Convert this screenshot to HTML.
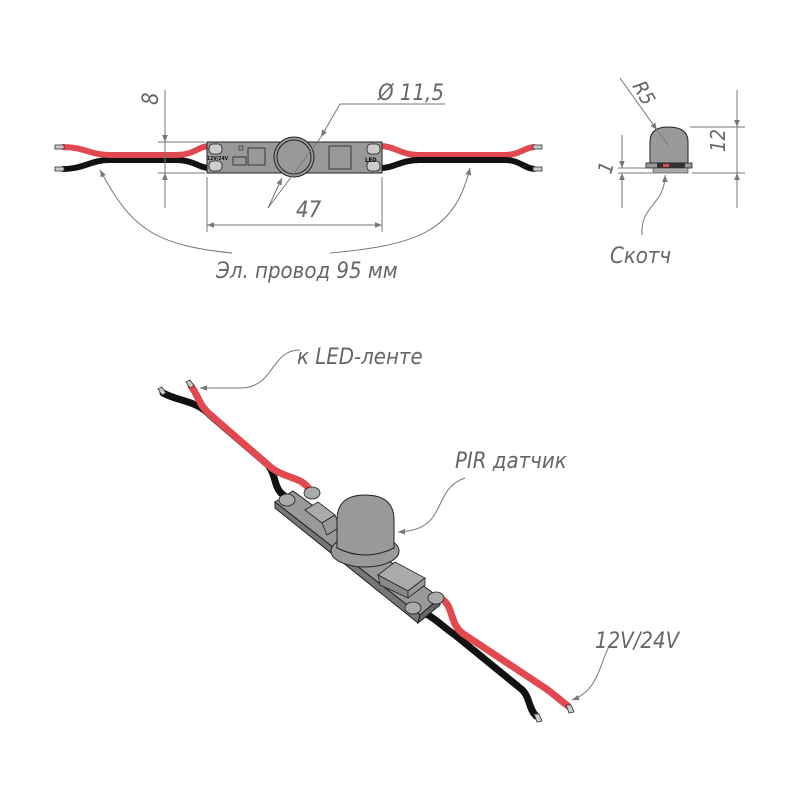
<!DOCTYPE html>
<html><head><meta charset="utf-8"><style>
html,body{margin:0;padding:0;background:#fff;}
svg text{font-family:"DejaVu Sans Condensed","Liberation Sans Narrow","Liberation Sans",sans-serif;font-style:italic;fill:#666;font-weight:lighter;}
</style></head><body>
<svg width="800" height="800" viewBox="0 0 800 800" xmlns="http://www.w3.org/2000/svg">
<defs>
<marker id="a" viewBox="0 0 10 10" refX="10" refY="5" markerWidth="9" markerHeight="7" orient="auto-start-reverse" markerUnits="userSpaceOnUse"><path d="M0,1 L10,5 L0,9 z" fill="#777"/></marker>
</defs>
<!-- ===== top view wires ===== -->
<g fill="none" stroke-linecap="butt">
<path d="M62,169 C85,169 90,160 110,160 L175,160 C195,160 198,168 210,168" stroke="#111" stroke-width="6"/>
<path d="M62,147 C85,147 90,155 110,155 L175,155 C195,155 198,146 210,146" stroke="#e2484f" stroke-width="6"/>
<path d="M380,146 C395,146 400,155 420,155 L505,155 C520,155 525,147 535,147" stroke="#e2484f" stroke-width="6"/>
<path d="M380,168 C395,168 400,160 420,160 L505,160 C520,160 525,169 535,169" stroke="#111" stroke-width="6"/>
</g>
<rect x="55" y="145" width="9" height="4" fill="#ccc" stroke="#333" stroke-width=".8"/>
<rect x="55" y="167" width="9" height="4" fill="#ccc" stroke="#333" stroke-width=".8"/>
<rect x="533" y="145" width="9" height="4" fill="#ccc" stroke="#333" stroke-width=".8"/>
<rect x="533" y="167" width="9" height="4" fill="#ccc" stroke="#333" stroke-width=".8"/>
<!-- board -->
<rect x="207" y="142" width="175" height="31" fill="#999" stroke="#222" stroke-width="1"/>
<rect x="209" y="144" width="13" height="10" rx="4" fill="#ccc" stroke="#222" stroke-width=".8"/>
<rect x="209" y="161" width="13" height="10" rx="4" fill="#ccc" stroke="#222" stroke-width=".8"/>
<rect x="367" y="144" width="13" height="10" rx="4" fill="#ccc" stroke="#222" stroke-width=".8"/>
<rect x="367" y="161" width="13" height="10" rx="4" fill="#ccc" stroke="#222" stroke-width=".8"/>
<rect x="248" y="148" width="17" height="17" fill="#999" stroke="#222" stroke-width=".8"/>
<rect x="233" y="157" width="13" height="8" fill="#999" stroke="#222" stroke-width=".8"/>
<rect x="239" y="146" width="4" height="4" fill="none" stroke="#222" stroke-width=".6"/>
<rect x="329" y="146" width="22" height="23" fill="#999" stroke="#222" stroke-width=".8"/>
<text x="207" y="160" font-size="5" style="font-style:normal;fill:#111;font-weight:bold">12V/24V</text>
<text x="365" y="162" font-size="6" style="font-style:normal;fill:#111;font-weight:bold">LED</text>
<circle cx="294" cy="157" r="20" fill="#999" stroke="#222" stroke-width="1"/>
<circle cx="294" cy="157" r="17" fill="#999" stroke="#222" stroke-width="1"/>
<!-- dimensions top view -->
<g stroke="#777" stroke-width="1" fill="none">
<line x1="158" y1="142" x2="205" y2="142"/>
<line x1="158" y1="173" x2="205" y2="173"/>
<line x1="165" y1="90" x2="165" y2="142" marker-end="url(#a)"/>
<line x1="165" y1="208" x2="165" y2="173" marker-end="url(#a)"/>
<line x1="165" y1="142" x2="165" y2="173"/>
<line x1="207" y1="177" x2="207" y2="232"/>
<line x1="382" y1="177" x2="382" y2="232"/>
<line x1="207" y1="225" x2="382" y2="225" marker-start="url(#a)" marker-end="url(#a)"/>
<polyline points="445,104 340,104 321,137" marker-end="url(#a)"/>
<line x1="321" y1="137" x2="268" y2="208"/>
<line x1="268" y1="208" x2="282" y2="178" marker-end="url(#a)"/>
<path d="M232,253 C150,245 130,225 100,170" marker-end="url(#a)"/>
<path d="M330,253 C420,245 455,230 470,168" marker-end="url(#a)"/>
</g>
<text x="378" y="100" font-size="22">Ø 11,5</text>
<text x="296" y="217" font-size="22">47</text>
<text x="158" y="105" font-size="22" transform="rotate(-90 158 105)">8</text>
<text x="216" y="278" font-size="22">Эл. провод 95 мм</text>
<!-- ===== side view ===== -->
<path d="M650,163 L650,142 Q650,127 668,127 Q688,127 688,142 L688,163 z" fill="#999" stroke="#222" stroke-width="1"/>
<rect x="646" y="163" width="46" height="5" fill="#999" stroke="#222" stroke-width=".8"/>
<rect x="657" y="163" width="28" height="5" fill="#333"/>
<rect x="663" y="164" width="6" height="3" fill="#e2484f"/>
<rect x="653" y="168" width="35" height="5" fill="#aaa" stroke="#333" stroke-width=".6"/>
<g stroke="#777" stroke-width="1" fill="none">
<line x1="690" y1="127" x2="745" y2="127"/>
<line x1="692" y1="173" x2="745" y2="173"/>
<line x1="737" y1="90" x2="737" y2="127" marker-end="url(#a)"/>
<line x1="737" y1="208" x2="737" y2="173" marker-end="url(#a)"/>
<line x1="737" y1="127" x2="737" y2="173"/>
<line x1="618" y1="168" x2="646" y2="168"/>
<line x1="618" y1="173" x2="652" y2="173"/>
<line x1="622" y1="135" x2="622" y2="168" marker-end="url(#a)"/>
<line x1="622" y1="208" x2="622" y2="173" marker-end="url(#a)"/>
<line x1="620" y1="78" x2="657" y2="130" marker-end="url(#a)"/>
<line x1="657" y1="130" x2="668" y2="145"/>
<path d="M642,235 C640,205 665,205 665,175" marker-end="url(#a)"/>
</g>
<text x="725" y="152" font-size="20" transform="rotate(-90 725 152)">12</text>
<text x="611" y="175" font-size="20" transform="rotate(-75 611 175)">1</text>
<text x="632" y="86" font-size="20" transform="rotate(60 632 86)">R5</text>
<text x="610" y="263" font-size="22">Скотч</text>
<!-- ===== 3D view ===== -->
<g fill="none" stroke-linecap="round">
<path d="M163,393 C180,402 195,400 210,415 L268,465 C278,478 272,490 288,498" stroke="#111" stroke-width="7"/>
<path d="M191,386 C200,398 198,405 213,417 L268,465 C285,480 300,475 310,490" stroke="#e2484f" stroke-width="7"/>
<path d="M414,610 C430,612 440,625 455,635 L520,688 C530,695 528,708 536,716" stroke="#111" stroke-width="7"/>
<path d="M440,598 C455,605 448,625 465,635 L545,688 C555,695 560,700 568,706" stroke="#e2484f" stroke-width="7"/>
</g>
<g stroke="#333" stroke-width=".8" fill="#ccc">
<path d="M158,389 l4,-2 l4,6 l-4,2 z"/>
<path d="M186,382 l4,-2 l4,6 l-4,2 z"/>
<path d="M534,714 l5,0 l3,7 l-5,1 z"/>
<path d="M566,705 l5,0 l3,7 l-5,1 z"/>
</g>
<!-- board -->
<path d="M275,502 L293,491 L440,598 L420,615 Z" fill="#999" stroke="#222" stroke-width="1"/>
<path d="M275,502 L275,508 L418,623 L420,615 Z" fill="#777" stroke="#222" stroke-width="1"/>
<path d="M420,615 L418,623 L440,605 L440,598 Z" fill="#666" stroke="#222" stroke-width="1"/>
<g fill="#aaa" stroke="#222" stroke-width=".8">
<ellipse cx="287" cy="500" rx="8" ry="6"/>
<ellipse cx="312" cy="493" rx="8" ry="6"/>
<ellipse cx="413" cy="608" rx="8" ry="6"/>
<ellipse cx="436" cy="598" rx="8" ry="6"/>
<path d="M305,510 L318,502 L335,515 L322,523 Z"/>
<path d="M322,523 L335,515 L340,527 L327,535 Z" fill="#999"/>
<path d="M378,575 L395,562 L425,578 L408,591 Z" fill="#aaa"/>
<path d="M378,575 L408,591 L408,598 L380,585 Z" fill="#888"/>
<path d="M408,591 L425,578 L425,585 L408,598 Z" fill="#999"/>
</g>
<ellipse cx="365" cy="551" rx="34" ry="16" fill="#999" stroke="#222" stroke-width="1"/>
<path d="M337,548 L337,520 Q337,495 365,495 Q394,495 394,520 L394,548 Q365,562 337,548 Z" fill="#999" stroke="#222" stroke-width="1"/>
<g stroke="#777" stroke-width="1" fill="none">
<path d="M300,350 C270,350 275,388 240,388 L200,388" marker-end="url(#a)"/>
<path d="M465,478 C430,490 450,530 398,532" marker-end="url(#a)"/>
<path d="M610,645 C600,660 600,690 572,700" marker-end="url(#a)"/>
</g>
<text x="297" y="364" font-size="22">к LED-ленте</text>
<text x="455" y="468" font-size="22">PIR датчик</text>
<text x="595" y="648" font-size="22">12V/24V</text>
</svg>
</body></html>
